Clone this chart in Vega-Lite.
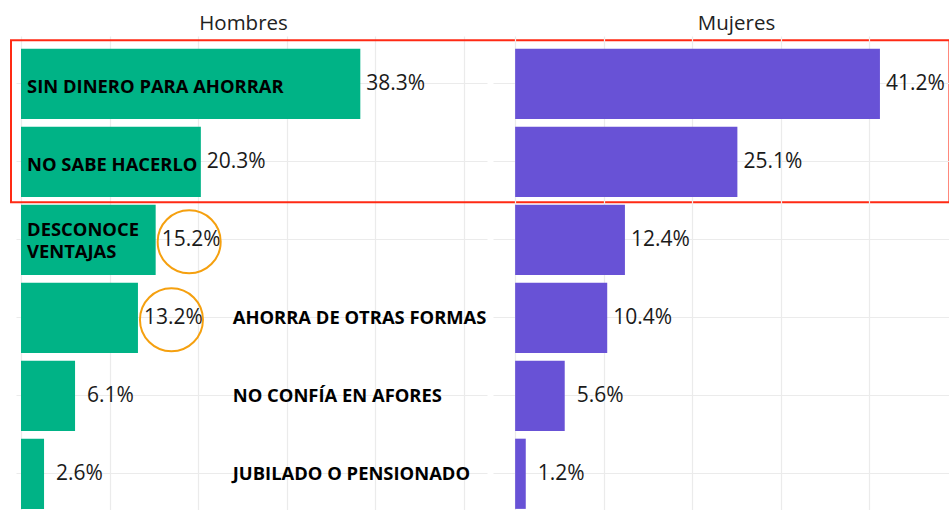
{
  "$schema": "https://vega.github.io/schema/vega-lite/v6.json",
  "background": "white",
  "padding": {"left": 9, "top": 13, "right": 0, "bottom": 0},
  "bounds": "flush",
  "config": {
    "view": {"stroke": null},
    "concat": {"spacing": 6},
    "font": "Open Sans",
    "axis": {"gridColor": "#ebebeb", "gridWidth": 1.2}
  },
  "datasets": {
    "hombres": [
      {"motivo": "SIN DINERO PARA AHORRAR", "pct": 0.383},
      {"motivo": "NO SABE HACERLO", "pct": 0.203},
      {"motivo": "DESCONOCE VENTAJAS", "pct": 0.152},
      {"motivo": "AHORRA DE OTRAS FORMAS", "pct": 0.132},
      {"motivo": "NO CONFÍA EN AFORES", "pct": 0.061},
      {"motivo": "JUBILADO O PENSIONADO", "pct": 0.026}
    ],
    "mujeres": [
      {"motivo": "SIN DINERO PARA AHORRAR", "pct": 0.412},
      {"motivo": "NO SABE HACERLO", "pct": 0.251},
      {"motivo": "DESCONOCE VENTAJAS", "pct": 0.124},
      {"motivo": "AHORRA DE OTRAS FORMAS", "pct": 0.104},
      {"motivo": "NO CONFÍA EN AFORES", "pct": 0.056},
      {"motivo": "JUBILADO O PENSIONADO", "pct": 0.012}
    ]
  },
  "hconcat": [
    {
      "data": {"name": "hombres"},
      "title": {"text": "Hombres", "fontSize": 20.5, "fontWeight": "normal", "color": "#222222", "anchor": "middle", "dx": -8, "offset": -14.3, "baseline": "alphabetic"},
      "width": 471,
      "height": 485.6,
      "encoding": {
        "y": {
          "field": "motivo", "type": "nominal", "sort": null,
          "scale": {"domain": ["SIN DINERO PARA AHORRAR", "NO SABE HACERLO", "DESCONOCE VENTAJAS", "AHORRA DE OTRAS FORMAS", "NO CONFÍA EN AFORES", "JUBILADO O PENSIONADO"], "paddingInner": 0.1, "paddingOuter": 0.163},
          "axis": {"title": null, "labels": false, "ticks": false, "domain": false, "grid": true, "bandPosition": 0.5}
        },
        "x": {
          "field": "pct", "type": "quantitative",
          "scale": {"domain": [-0.00565, 0.526], "nice": false, "zero": false},
          "axis": {"title": null, "labels": false, "ticks": false, "domain": false, "grid": true, "values": [0, 0.1, 0.2, 0.3, 0.4, 0.5]}
        }
      },
      "layer": [
        {"mark": {"type": "bar", "color": "#00b386"}},
        {
          "transform": [{"filter": "datum.pct >= 0.1"}],
          "mark": {"type": "text", "align": "left", "baseline": "middle", "dx": 6, "fontSize": 21, "color": "#1a1a1a"},
          "encoding": {"text": {"field": "pct", "type": "quantitative", "format": ".1%"}}
        },
        {
          "transform": [{"filter": "datum.pct < 0.1"}],
          "mark": {"type": "text", "align": "left", "baseline": "middle", "dx": 12, "fontSize": 21, "color": "#1a1a1a"},
          "encoding": {"text": {"field": "pct", "type": "quantitative", "format": ".1%"}}
        },
        {
          "transform": [{"filter": {"field": "motivo", "oneOf": ["SIN DINERO PARA AHORRAR", "NO SABE HACERLO"]}}],
          "mark": {"type": "text", "align": "left", "baseline": "middle", "dy": 3, "fontSize": 18.4, "fontWeight": "bold", "color": "#000000"},
          "encoding": {"x": {"datum": 0.0068, "type": "quantitative"}, "text": {"field": "motivo"}}
        },
        {
          "transform": [{"filter": {"field": "motivo", "equal": "DESCONOCE VENTAJAS"}}],
          "mark": {"type": "text", "align": "left", "baseline": "middle", "dy": -10, "lineBreak": " ", "lineHeight": 22, "fontSize": 18.4, "fontWeight": "bold", "color": "#000000"},
          "encoding": {"x": {"datum": 0.0068, "type": "quantitative"}, "text": {"field": "motivo"}}
        },
        {
          "transform": [{"filter": {"field": "motivo", "oneOf": ["AHORRA DE OTRAS FORMAS", "NO CONFÍA EN AFORES", "JUBILADO O PENSIONADO"]}}],
          "mark": {"type": "text", "align": "left", "baseline": "middle", "fontSize": 18.4, "fontWeight": "bold", "color": "#000000"},
          "encoding": {"x": {"datum": 0.239, "type": "quantitative"}, "text": {"field": "motivo"}}
        },
        {
          "transform": [{"filter": {"field": "motivo", "oneOf": ["DESCONOCE VENTAJAS", "AHORRA DE OTRAS FORMAS"]}}],
          "mark": {"type": "point", "shape": "circle", "filled": false, "size": 3969, "stroke": "#f5a00f", "strokeWidth": 2, "opacity": 1, "xOffset": 33.5, "yOffset": 2}
        },
        {
          "transform": [{"filter": {"field": "motivo", "equal": "SIN DINERO PARA AHORRAR"}}],
          "mark": {"type": "rect", "filled": false, "stroke": "#ff2a14", "strokeWidth": 2, "yOffset": -8.4, "y2Offset": 5.4},
          "encoding": {
            "x": {"datum": -0.0113, "type": "quantitative"},
            "x2": {"datum": 1.048},
            "y": {"datum": "SIN DINERO PARA AHORRAR", "type": "nominal", "bandPosition": 0},
            "y2": {"datum": "NO SABE HACERLO", "bandPosition": 1}
          }
        }
      ]
    },
    {
      "data": {"name": "mujeres"},
      "title": {"text": "Mujeres", "fontSize": 20.5, "fontWeight": "normal", "color": "#222222", "anchor": "middle", "offset": -14.3, "baseline": "alphabetic"},
      "width": 487,
      "height": 485.6,
      "encoding": {
        "y": {
          "field": "motivo", "type": "nominal", "sort": null,
          "scale": {"domain": ["SIN DINERO PARA AHORRAR", "NO SABE HACERLO", "DESCONOCE VENTAJAS", "AHORRA DE OTRAS FORMAS", "NO CONFÍA EN AFORES", "JUBILADO O PENSIONADO"], "paddingInner": 0.1, "paddingOuter": 0.163},
          "axis": {"title": null, "labels": false, "ticks": false, "domain": false, "grid": true, "bandPosition": 0.5}
        },
        "x": {
          "field": "pct", "type": "quantitative",
          "scale": {"domain": [-0.025, 0.525], "nice": false, "zero": false},
          "axis": {"title": null, "labels": false, "ticks": false, "domain": false, "grid": true, "values": [0, 0.1, 0.2, 0.3, 0.4, 0.5]}
        }
      },
      "layer": [
        {"mark": {"type": "bar", "color": "#6852d6"}},
        {
          "transform": [{"filter": "datum.pct >= 0.1"}],
          "mark": {"type": "text", "align": "left", "baseline": "middle", "dx": 6, "fontSize": 21, "color": "#1a1a1a"},
          "encoding": {"text": {"field": "pct", "type": "quantitative", "format": ".1%"}}
        },
        {
          "transform": [{"filter": "datum.pct < 0.1"}],
          "mark": {"type": "text", "align": "left", "baseline": "middle", "dx": 12, "fontSize": 21, "color": "#1a1a1a"},
          "encoding": {"text": {"field": "pct", "type": "quantitative", "format": ".1%"}}
        }
      ]
    }
  ]
}
